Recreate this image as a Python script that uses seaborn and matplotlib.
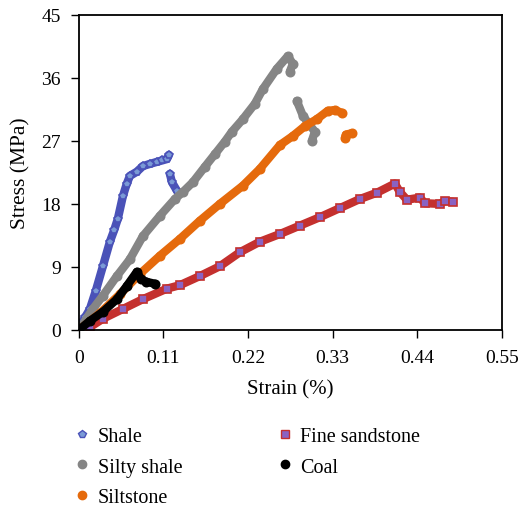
import numpy as np
import pandas as pd
import matplotlib
matplotlib.use("Agg")
import matplotlib.pyplot as plt
from matplotlib.lines import Line2D
import seaborn as sns

# Stress-strain data (strain in %, stress in MPa)
shale_strain = [0.0, 0.0013, 0.008, 0.0143, 0.022, 0.0312, 0.0403, 0.046, 0.0507, 0.0572, 0.062, 0.0663,
                0.0754, 0.0832, 0.092, 0.1014, 0.108, 0.1144, 0.117]
shale_stress = [0.0, 0.57, 1.8, 3.0, 5.6, 9.1, 12.6, 14.3, 15.9, 19.1, 20.8, 22.0,
                22.6, 23.4, 23.7, 24.0, 24.2, 24.4, 25.0]
shale_tail_strain = [0.1183, 0.121, 0.1274]
shale_tail_stress = [22.3, 21.1, 19.9]

silty_strain = [0.0, 0.0182, 0.0312, 0.0494, 0.0663, 0.0832, 0.1053, 0.1248, 0.1352, 0.1482, 0.1638,
                0.1768, 0.1898, 0.1989, 0.2132, 0.2288, 0.2392, 0.2574, 0.2717, 0.2782, 0.2743]
silty_stress = [0.0, 3.0, 4.9, 7.7, 10.1, 13.4, 16.3, 18.7, 19.7, 21.1, 23.3,
                25.1, 26.9, 28.3, 30.1, 32.3, 34.4, 37.3, 39.1, 38.0, 36.9]
silty_tail_strain = [0.2834, 0.2912, 0.3068, 0.3029]
silty_tail_stress = [32.7, 30.6, 28.3, 27.0]

silt_strain = [0.0, 0.0273, 0.0533, 0.0793, 0.1053, 0.1313, 0.1573, 0.1833, 0.2132, 0.2353, 0.2613,
               0.2782, 0.2938, 0.3094, 0.3237, 0.3329, 0.342]
silt_stress = [0.0, 2.4, 5.1, 8.0, 10.6, 13.0, 15.6, 18.0, 20.6, 23.0, 26.4,
               27.7, 29.1, 30.1, 31.3, 31.4, 31.0]
silt_tail_strain = [0.3462, 0.3472, 0.355]
silt_tail_stress = [27.4, 27.9, 28.1]

sand_strain = [0.0, 0.0143, 0.0312, 0.0572, 0.0832, 0.1144, 0.1313, 0.1573, 0.1833, 0.2093, 0.2353,
               0.2613, 0.2873, 0.3133, 0.3393, 0.3654, 0.3875, 0.4109, 0.4174, 0.4265, 0.4434,
               0.4499, 0.4694, 0.4759, 0.4863]
sand_stress = [0.0, 0.4, 1.6, 3.0, 4.4, 5.9, 6.4, 7.7, 9.1, 11.1, 12.6,
               13.7, 14.9, 16.1, 17.4, 18.7, 19.6, 20.9, 19.7, 18.6, 18.9,
               18.1, 18.0, 18.4, 18.3]

coal_strain = [0.0, 0.0143, 0.0312, 0.0494, 0.0624, 0.0754, 0.0806, 0.0871, 0.0988]
coal_stress = [0.0, 1.3, 2.6, 4.4, 6.3, 8.3, 7.3, 6.9, 6.6]

rocks = ["Shale", "Silty shale", "Siltstone", "Fine sandstone", "Coal"]
edge_colors = ["#4a52b8", "#858585", "#e56a0c", "#c4302e", "#000000"]
face_colors = ["#7a9ad6", "#858585", "#e56a0c", "#8a62c2", "#000000"]
markers = ["p", "o", "o", "s", "o"]

pieces = {
    "Shale": [(shale_strain, shale_stress), (shale_tail_strain, shale_tail_stress)],
    "Silty shale": [(silty_strain, silty_stress), (silty_tail_strain, silty_tail_stress)],
    "Siltstone": [(silt_strain, silt_stress), (silt_tail_strain, silt_tail_stress)],
    "Fine sandstone": [(sand_strain, sand_stress)],
    "Coal": [(coal_strain, coal_stress)],
}

plt.rcParams["font.family"] = ["Liberation Serif", "DejaVu Serif"]

fig = plt.figure(figsize=(5.19, 5.10), dpi=100)
ax = fig.add_axes([0.152, 0.351, 0.815, 0.618])

for rock, ec, fc, mk in zip(rocks, edge_colors, face_colors, markers):
    for xs, ys in pieces[rock]:
        df = pd.DataFrame({"strain": xs, "stress": ys})
        sns.lineplot(data=df, x="strain", y="stress", sort=False, estimator=None,
                     ax=ax, color=ec, lw=6, marker=mk, markersize=6,
                     markerfacecolor=fc, markeredgecolor=ec, markeredgewidth=1.2,
                     solid_capstyle="round")

ax.set_xlim(0, 0.55)
ax.set_ylim(0, 45)
ax.set_xticks([0, 0.11, 0.22, 0.33, 0.44, 0.55])
ax.set_xticklabels(["0", "0.11", "0.22", "0.33", "0.44", "0.55"])
ax.set_yticks([0, 9, 18, 27, 36, 45])
ax.tick_params(direction="out", length=6, width=1, labelsize=14, colors="black")
ax.tick_params(axis="x", pad=8)
ax.tick_params(axis="y", pad=7)
for s in ax.spines.values():
    s.set_linewidth(1.3)
ax.set_xlabel("Strain (%)", fontsize=15, labelpad=9)
ax.set_ylabel("Stress (MPa)", fontsize=15.5, labelpad=8)

handles = [Line2D([], [], ls="none", marker=mk, markersize=6, markerfacecolor=fc,
                  markeredgecolor=ec, markeredgewidth=1)
           for ec, fc, mk in zip(edge_colors, face_colors, markers)]
fig.legend(handles, rocks, ncol=2, loc="upper left", bbox_to_anchor=(0.12, 0.18),
           frameon=False, fontsize=14.5, handlelength=1.0, handletextpad=0.25,
           columnspacing=4.6, labelspacing=0.55, borderpad=0)

fig.savefig("out.png", dpi=100)
